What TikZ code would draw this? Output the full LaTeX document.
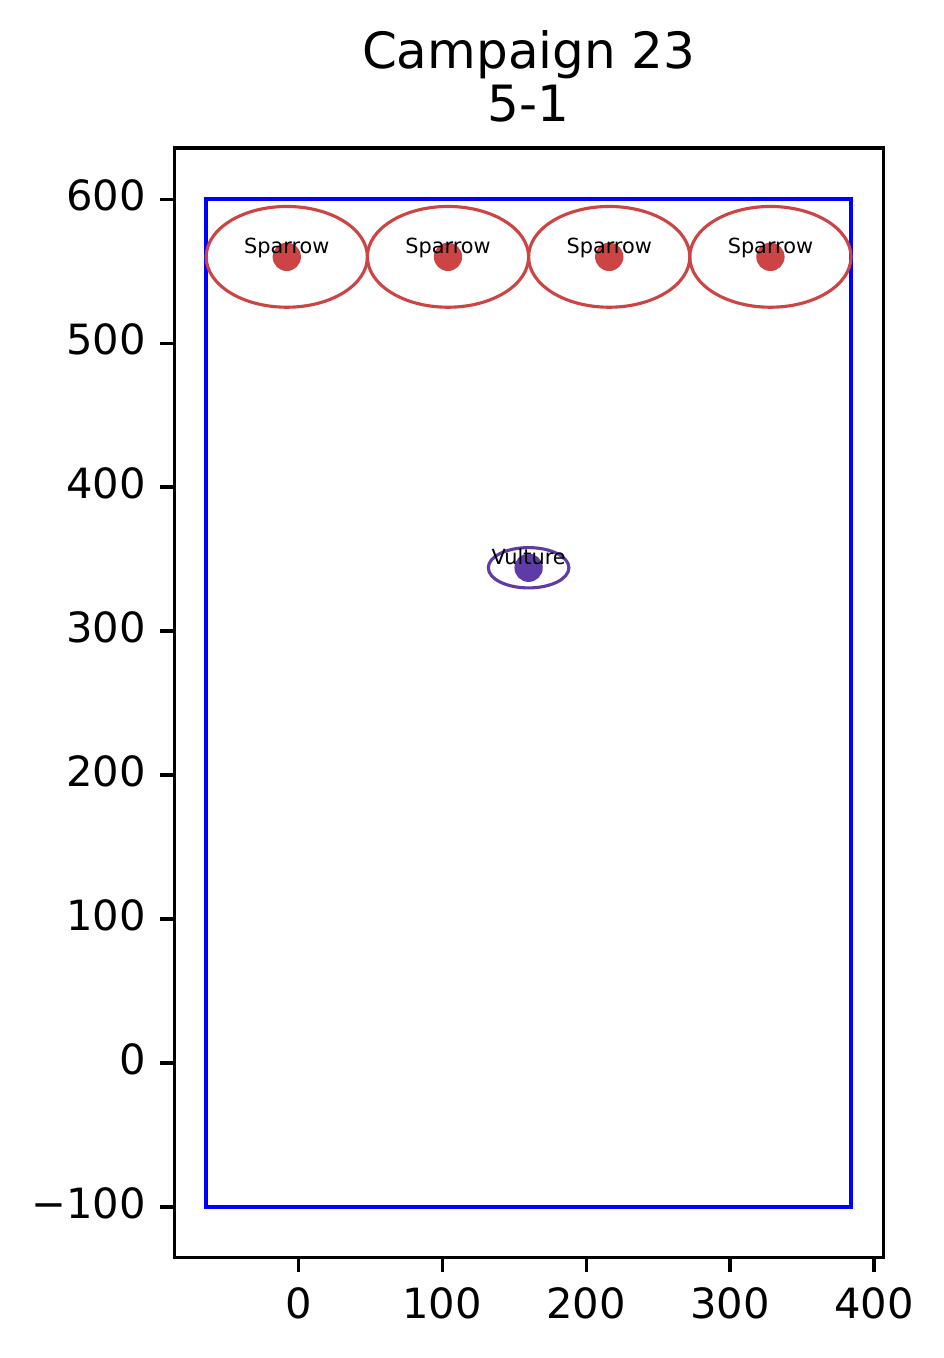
\documentclass[tikz,border=0pt]{standalone}
\usepackage{fontspec}
\setmainfont{DejaVu Sans}
\definecolor{sred}{RGB}{204,68,68}
\definecolor{vpurple}{RGB}{94,60,166}
\begin{document}
\begin{tikzpicture}[x=0.24pt,y=-0.24pt,
  ell/.style={line width=0.75pt},
  dot/.style={circle,inner sep=0pt,minimum size=6.8pt},
  lbl/.style={anchor=base,inner sep=0pt,font=\fontsize{5}{6}\selectfont},
  ticklbl/.style={inner sep=0pt,font=\fontsize{10}{12}\selectfont},
  tick/.style={line width=0.8pt}]
\useasboundingbox[fill=white] (0,0) rectangle (943,1358);
\begin{scope}[shift={(298.3,1062.9)},x=0.345456pt,y=0.345456pt]
  % field
  \draw[blue,line width=1pt] (-64,-100) rectangle (384,600);
  % sparrows
  \foreach \i/\cx in {1/-8,2/104,3/216,4/328}{
    \draw[sred,ell] (\cx,560) ellipse [x radius=56,y radius=35];
    \node[dot,fill=sred] (s\i) at (\cx,560) {};
    \node[lbl] (sl\i) at ([yshift=0.85pt]s\i.center) {Sparrow};
  }
  % vulture
  \draw[vpurple,ell] (160,344) ellipse [x radius=28,y radius=14];
  \node[dot,fill=vpurple] (v) at (160,344) {};
  \node[lbl] (vl) at ([yshift=0.85pt]v.center) {Vulture};
  % axes frame
  \draw[line width=0.8pt] (-86.15,-135.06) rectangle (406.4,635.6);
  % x ticks
  \foreach \t/\l in {0/0,100/100,200/200,300/300,400/400}{
    \draw[tick] (\t,-135.06) -- ++(0,-3.5pt) coordinate (xt\t);
    \node[ticklbl,anchor=north] (xl\t) at ([yshift=-3.5pt]xt\t) {\l};
  }
  % y ticks
  \foreach \t/\l in {-100/−100,0/0,100/100,200/200,300/300,400/400,500/500,600/600}{
    \draw[tick] (-86.15,\t) -- ++(-3.5pt,0) coordinate (yt\t);
    \node[ticklbl,anchor=mid east] (yl\t) at ([xshift=-3.1pt]yt\t) {\l};
  }
  % title
  \node[inner sep=0pt,anchor=south,align=center,font=\fontsize{12}{12.8}\selectfont] (title) at ([yshift=6pt]160.1,635.6) {Campaign 23\\5-1};
\end{scope}
\end{tikzpicture}
\end{document}
